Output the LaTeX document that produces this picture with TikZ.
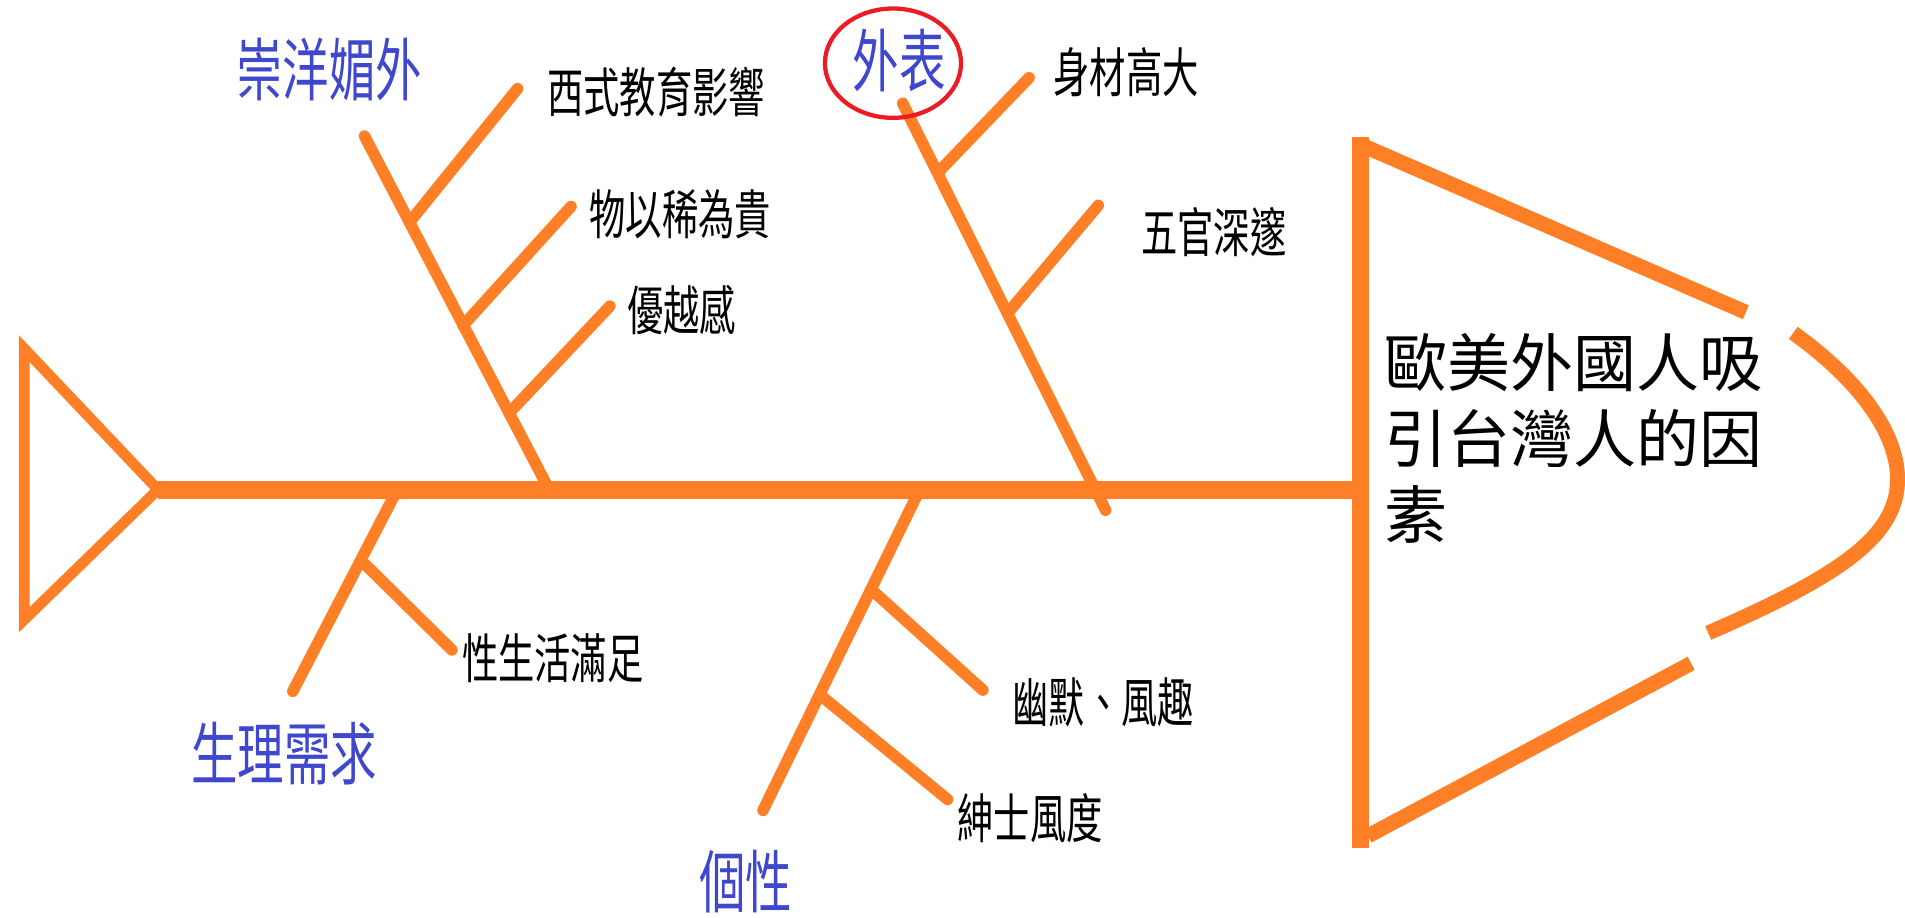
\documentclass[tikz,border=0pt]{standalone}
\usepackage{fontspec}
\newfontfamily\cjk{Noto Sans CJK TC}
\newfontfamily\cjknarrow[FakeStretch=0.68]{Noto Sans CJK TC}
\definecolor{fishorange}{RGB}{255,127,39}
\definecolor{causeblue}{RGB}{63,72,204}
\definecolor{ringred}{RGB}{237,28,36}

\begin{document}
\begin{tikzpicture}[x=0.02cm,y=-0.02cm,
    spine/.style={draw=fishorange,line width=8.5pt},
    bone/.style={draw=fishorange,line width=5.4pt,line cap=round},
    headline/.style={draw=fishorange,line width=7pt},
    cause/.style={text=causeblue,inner sep=0pt,font=\cjknarrow\fontsize{32}{32}\selectfont},
    factor/.style={inner sep=0pt,font=\cjknarrow\fontsize{25}{25}\selectfont}]
  \useasboundingbox (0,0) rectangle (1568,755);

  \coordinate (tailtop) at (20,287);
  \coordinate (tailbot) at (20,510);
  \coordinate (tail) at (130,403);
  \coordinate (neck) at (1114,403);
  \draw[draw=fishorange,line width=5pt,line join=miter] (tailtop) -- (tail) -- (tailbot) -- cycle;
  \draw[spine] (tail) -- (neck);

  \coordinate (headtop) at (1120,113);
  \coordinate (headbot) at (1120,698);
  \coordinate (gilltop) at (1437,257);
  \coordinate (jawtop) at (1476,274);
  \coordinate (jawend) at (1406,521);
  \coordinate (chin) at (1392,546);
  \draw[headline,line width=8pt] (headtop) -- (headbot);
  \draw[headline] (1122,120) -- (gilltop);
  \draw[headline] (jawtop) .. controls (1540,320) and (1570,370) .. (1560,410)
    .. controls (1550,450) and (1500,480) .. (jawend);
  \draw[headline] (chin) -- (1126,688);
  \node[anchor=north west,align=left,inner sep=0pt,font=\cjk\fontsize{29.5}{35.7}\selectfont]
    (effect) at (1139,274) {歐美外國人吸\\引台灣人的因\\素};

  \coordinate (a0) at (300,112);
  \coordinate (a1) at (452,403);
  \coordinate (a11) at (337,183);
  \coordinate (a12) at (381,268);
  \coordinate (a13) at (419,340);
  \draw[bone] (a0) -- (a1);
  \node[cause] (chongyang) at (271,57) {崇洋媚外};
  \node[factor] (xishi) at (540,76) {西式教育影響};
  \node[factor] (wuyi) at (560,176) {物以稀為貴};
  \node[factor] (youyue) at (561,255) {優越感};
  \draw[bone] (a11) -- (426,73) coordinate (a11e);
  \draw[bone] (a12) -- (470,170) coordinate (a12e);
  \draw[bone] (a13) -- (502,252) coordinate (a13e);

  \coordinate (b0) at (743,85);
  \coordinate (b1) at (910,420);
  \coordinate (b11) at (773,141);
  \coordinate (b12) at (830,257);
  \draw[bone] (b0) -- (b1);
  \node[cause] (waibiao) at (740,50) {外表};
  \coordinate (ringc) at (735,52);
  \draw[ringred,line width=2pt] (ringc) ellipse [x radius=56,y radius=45];
  \node[factor] (shencai) at (927,59) {身材高大};
  \node[factor] (wuguan) at (999,191) {五官深邃};
  \draw[bone] (b11) -- (847,64) coordinate (b11e);
  \draw[bone] (b12) -- (904,169) coordinate (b12e);

  \coordinate (c0) at (327,403);
  \coordinate (c1) at (241,569);
  \coordinate (c11) at (298,462);
  \draw[bone] (c0) -- (c1);
  \node[cause] (shengli) at (234,620) {生理需求};
  \node[factor] (xing) at (455,542) {性生活滿足};
  \draw[bone] (c11) -- (372,535) coordinate (c11e);

  \coordinate (d0) at (757,403);
  \coordinate (d1) at (628,667);
  \coordinate (d11) at (718,486);
  \coordinate (d12) at (675,572);
  \draw[bone] (d0) -- (d1);
  \node[cause] (gexing) at (614,726) {個性};
  \node[factor] (youmo) at (908,578) {幽默、風趣};
  \node[factor] (shenshi) at (848,673) {紳士風度};
  \draw[bone] (d11) -- (809,568) coordinate (d11e);
  \draw[bone] (d12) -- (780,658) coordinate (d12e);
\end{tikzpicture}
\end{document}
